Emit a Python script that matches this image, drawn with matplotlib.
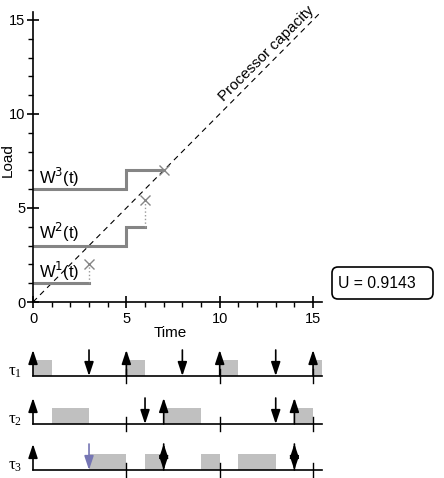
import numpy as np
import matplotlib.pyplot as plt
from matplotlib.patches import FancyBboxPatch
from matplotlib.ticker import MultipleLocator

plt.rcParams['font.family'] = ['Liberation Sans', 'DejaVu Sans']

# workload step functions (step where='post')
w1_t = [0, 3]
w1_v = [1, 1]
w2_t = [0, 5, 6]
w2_v = [3, 4, 4]
w3_t = [0, 5, 7]
w3_v = [6, 7, 7]
labels_w = ['W$^1$(t)', 'W$^2$(t)', 'W$^3$(t)']
label_y = [1.6, 3.7, 6.6]

# test points (x marks) reached from the end of each step
cross_t = [3, 6, 7]
cross_v = [2, 5.4, 7]
util = 0.9143

# schedule: releases, deadlines, executed intervals
releases = [[0, 5, 10, 15], [0, 7, 14], [0, 7, 14]]
deadlines = [[3, 8, 13], [6, 13], [7, 14]]
marked_deadline = [[], [], [3]]
execs = [
    [(0, 1), (5, 6), (10, 11), (15, 15.5)],
    [(1, 3), (7, 9), (14, 15)],
    [(3, 5), (6, 7), (9, 10), (11, 13)],
]
task_names = [r'$\mathregular{\tau_1}$', r'$\mathregular{\tau_2}$', r'$\mathregular{\tau_3}$']

W, H = 444, 478
fig = plt.figure(figsize=(W / 100, H / 100), dpi=100)

# ---- top: load vs time ----
ax = fig.add_axes([33 / W, 176 / H, 289.4 / W, 290.5 / H])
ax.set_xlim(0, 15.5)
ax.set_ylim(0, 15.45)
for s in ['top', 'right']:
    ax.spines[s].set_visible(False)
for s in ['left', 'bottom']:
    ax.spines[s].set_linewidth(1.2)
ax.set_xticks([0, 5, 10, 15])
ax.set_yticks([0, 5, 10, 15])
ax.xaxis.set_minor_locator(MultipleLocator(1))
ax.yaxis.set_minor_locator(MultipleLocator(1))
ax.tick_params(which='major', direction='inout', length=9, width=1.2, labelsize=10.5, pad=1)
ax.tick_params(axis='x', which='major', pad=3)
ax.tick_params(which='minor', direction='out', length=3.5, width=1.0)

line = np.array([0, 15.5])
ax.plot(line, line, color='black', lw=0.8, dashes=(5, 4))
ax.text(12.5, 13.2, 'Processor capacity', rotation=45, rotation_mode='anchor',
        ha='center', va='center', fontsize=11)

gray = '#858585'
for tt, vv in [(w1_t, w1_v), (w2_t, w2_v), (w3_t, w3_v)]:
    ax.step(tt, vv, where='post', color=gray, lw=2.2, solid_joinstyle='miter')
# dotted riser from step end to test point
for tt, vv, ct, cv in zip([w1_t, w2_t, w3_t], [w1_v, w2_v, w3_v], cross_t, cross_v):
    if cv > vv[-1]:
        ax.plot([ct, ct], [vv[-1], cv], color='#999999', lw=1.0, ls=':')
ax.plot(cross_t, cross_v, 'x', color=gray, ms=7, mew=1.0, clip_on=False)
for lab, ly in zip(labels_w, label_y):
    ax.text(0.3, ly, lab, fontsize=12, va='center', ha='left')

fig.text(170 / W, 1 - 333 / H, 'Time', ha='center', va='center', fontsize=11)
fig.text(8 / W, 1 - 160 / H, 'Load', ha='center', va='center', rotation=90, fontsize=11)

# utilization box
ov = fig.add_axes([0, 0, 1, 1], zorder=-1)
ov.set_xlim(0, W)
ov.set_ylim(0, H)
ov.axis('off')
ov.add_patch(FancyBboxPatch((332, H - 299), 101, 32, boxstyle='round,pad=0,rounding_size=6',
                            fc='white', ec='black', lw=1.2))
fig.text(338 / W, 1 - 283 / H, f'U = {util:.4f}', ha='left', va='center', fontsize=11.3)

# ---- bottom: schedule ----
ax2 = fig.add_axes([33 / W, 0, 289.4 / W, 138 / H])
ax2.set_xlim(0, 15.5)
ax2.set_ylim(0, 138)
ax2.axis('off')
bases = [102, 54, 8]
box_h = 16.5
arr_h = 26


def arrow(x, y0, y1, color='black'):
    ax2.annotate('', xy=(x, y1), xytext=(x, y0),
                 arrowprops=dict(arrowstyle='-|>,head_length=0.6,head_width=0.2',
                                 color=color, lw=1.2, mutation_scale=14,
                                 shrinkA=0, shrinkB=0),
                 annotation_clip=False, zorder=4)


for i, b in enumerate(bases):
    ax2.broken_barh([(s, e - s) for s, e in execs[i]], (b, box_h),
                    facecolors='#c0c0c0', zorder=1, clip_on=False)
    ax2.plot([0, 15.5], [b, b], color='black', lw=1.2, zorder=3, clip_on=False)
    for t in [5, 10, 15]:
        ax2.plot([t, t], [b - 7, b + 7], color='black', lw=1.0, zorder=3, clip_on=False)
    for r in releases[i]:
        arrow(r, b, b + arr_h)
    for d in deadlines[i]:
        arrow(d, b + arr_h, b)
    for d in marked_deadline[i]:
        arrow(d, b + arr_h, b, color='#7676b4')
    ax2.text(-0.96, b + 4, task_names[i], ha='center', va='center', fontsize=12,
             family='Liberation Serif')

fig.savefig('out.png', dpi=100)
